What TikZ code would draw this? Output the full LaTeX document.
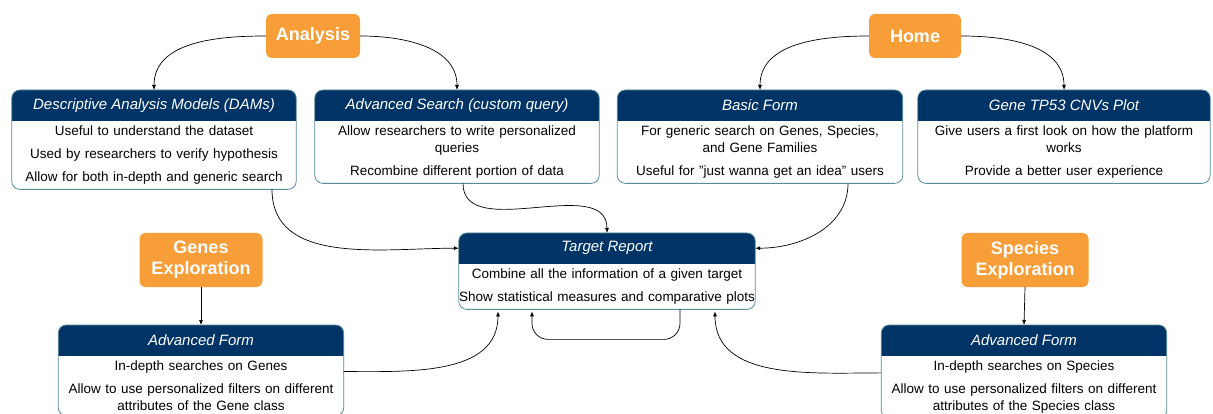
\documentclass[tikz,border=0pt]{standalone}
\usepackage{fontspec}
\setmainfont{Liberation Sans}
\usetikzlibrary{
    arrows.meta,
    backgrounds,
    calc
}
\definecolor{navy}{RGB}{0,52,102}
\definecolor{tangerine}{RGB}{248,158,56}
\definecolor{tealrim}{RGB}{88,140,152}
\tikzset {
    section/.style = {
        rectangle, rounded corners = 6pt, fill = tangerine, text = white,
        font = \fontsize{18}{21}\selectfont\bfseries, align = center,
        minimum height = 44pt, inner sep = 3pt
    },
    boxhead/.style = {
        rectangle, anchor = north, minimum height = 30pt, inner sep = 0pt,
        text = white, font = \fontsize{15}{18}\selectfont\itshape
    },
    boxbody/.style = {
        rectangle, anchor = north, inner xsep = 0pt, inner ysep = 5pt,
        align = center, font = \fontsize{13.5}{17}\selectfont
    },
    flow/.style = {
        line width = 0.7pt,
        arrows = {-Latex[length = 5pt, width = 4pt]}
    },
    %
    pics/infobox/.style n args = {3}{
        code = {
            \node (-head) [boxhead, minimum width = #1] at (0, 0) {#2};
            \node (-body) [boxbody, text width = #1] at (-head.south) {#3};
            \begin{scope}[on background layer]
                \fill [white, rounded corners = 8pt]
                    (-head.north west) rectangle (-body.south east);
                \begin{scope}
                    \clip (-head.north west) rectangle (-head.south east);
                    \fill [navy, rounded corners = 8pt]
                        (-head.north west) rectangle (-body.south east);
                \end{scope}
                \draw [tealrim, line width = 0.8pt, rounded corners = 8pt]
                    (-head.north west) rectangle (-body.south east);
            \end{scope}
        }
    }
}

\begin{document}
\begin{tikzpicture}[x = 1pt, y = 1pt]
    \useasboundingbox (0, 0) rectangle (1213, -414);

    \node (an) [section, minimum width = 94pt] at (313, -36) {Analysis};
    \node (ho) [section, minimum width = 92pt] at (915, -36) {Home};
    \node (gx) [section, minimum width = 123pt, minimum height = 54pt]
        at (201, -260) {Genes\\Exploration};
    \node (sx) [section, minimum width = 127pt, minimum height = 54pt]
        at (1025, -260) {Species\\Exploration};

    \pic (dams) at (154, -90) {infobox = {284pt}{Descriptive Analysis Models (DAMs)}
        {Useful to understand the dataset\\[6pt]
         Used by researchers to verify hypothesis\\[6pt]
         Allow for both in-depth and generic search}};
    \pic (adv) at (457, -90) {infobox = {284pt}{Advanced Search (custom query)}
        {Allow researchers to write personalized\\queries\\[6pt]
         Recombine different portion of data}};
    \pic (basic) at (760, -90) {infobox = {285pt}{Basic Form}
        {For generic search on Genes, Species,\\and Gene Families\\[6pt]
         Useful for \char34 just wanna get an idea\char34{} users}};
    \pic (tp) at (1064, -90) {infobox = {292pt}{Gene TP53 CNVs Plot}
        {Give users a first look on how the platform\\works\\[6pt]
         Provide a better user experience}};
    \pic (tr) at (607, -233) {infobox = {296pt}{Target Report}
        {Combine all the information of a given target\\[6pt]
         Show statistical measures and comparative plots}};
    \pic (gf) at (201, -325) {infobox = {285pt}{Advanced Form}
        {In-depth searches on Genes\\[6pt]
         Allow to use personalized filters on different\\attributes of the Gene class}};
    \pic (sf) at (1024, -325) {infobox = {285pt}{Advanced Form}
        {In-depth searches on Species\\[6pt]
         Allow to use personalized filters on different\\attributes of the Species class}};

    \draw [flow] (an.west) to[out = 180, in = 90] (dams-head.north);
    \draw [flow] (an.east) to[out = 0, in = 90] (adv-head.north);
    \draw [flow] (ho.west) to[out = 180, in = 90] (basic-head.north);
    \draw [flow] (ho.east) to[out = 0, in = 90] (tp-head.north);

    \draw [flow] ([xshift = 118pt]dams-body.south) to[out = -90, in = 180] (tr-head.west);
    \draw [flow] ([xshift = 6pt]adv-body.south) to[out = -90, in = 90] (tr-head.north);
    \draw [flow] ([xshift = 88pt]basic-body.south) to[out = -90, in = 0] (tr-head.east);

    \draw [flow] (gx.south) -- (gf-head.north);
    \draw [flow] (sx.south) -- (sf-head.north);

    \draw [flow] ([yshift = 14pt]gf-body.east)
        to[out = 0, in = -90] ([xshift = -109pt, yshift = -2pt]tr-body.south);
    \draw [flow] ([yshift = 14pt]sf-body.west)
        to[out = 180, in = -90] ([xshift = 108pt, yshift = -2pt]tr-body.south);
    \draw [flow, rounded corners = 16pt] ([xshift = 73pt]tr-body.south)
        -- ++(0, -30) -| ([xshift = -75pt, yshift = -2pt]tr-body.south);
\end{tikzpicture}
\end{document}
